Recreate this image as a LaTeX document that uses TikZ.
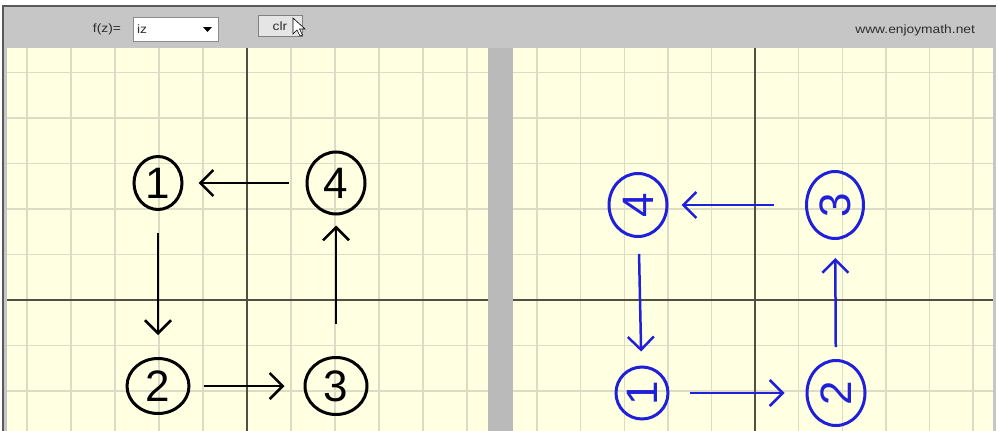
\documentclass[tikz,border=0pt]{standalone}
\usepackage{fontspec}
\setmainfont{Liberation Sans}
\usetikzlibrary{arrows.meta,shapes.geometric}

\definecolor{paper}{RGB}{255,255,226}
\definecolor{gridline}{RGB}{220,220,198}
\definecolor{axisline}{RGB}{80,80,66}
\definecolor{barface}{RGB}{198,198,198}
\definecolor{splitbar}{RGB}{186,186,186}
\definecolor{penblue}{RGB}{32,32,218}
\definecolor{uiink}{RGB}{45,45,45}

\tikzset{
  digit/.style={ellipse, draw, line width=3pt, inner sep=0pt,
    font=\fontsize{44}{44}\selectfont},
  bluedigit/.style={digit, draw=penblue, text=penblue},
  penarrow/.style={line width=2.5pt, -{Straight Barb[length=13pt,width=26pt]}},
  uitext/.style={text=uiink, font=\fontsize{12}{12}\selectfont, xscale=1.15},
  gridrule/.style={gridline, line width=1.4pt},
  axisrule/.style={axisline, line width=1.4pt}
}

\begin{document}
\begin{tikzpicture}[x=1pt, y=-1pt]
\useasboundingbox (0,0) rectangle (996,431);

% window and tool bar
\fill[white] (0,0) rectangle (996,431);
\fill[barface] (3,6) rectangle (996,431);
\draw[line width=1.5pt, black!65] (3,431) -- (3,6) -- (996,6);

\node[uitext, anchor=east] (fzlabel) at (125,29) {f(z)=};
\node[draw=black!45, fill=white, minimum width=85pt, minimum height=24pt,
      inner sep=0pt, anchor=west] (fzbox) at (133,29) {};
\node[uitext, anchor=west] (fzvalue) at (fzbox.west) {iz};
\fill[black] (203,27) -- (212,27) -- (207.5,32) -- cycle;
\node[draw=black!50, fill=black!10, minimum width=38pt, minimum height=21pt,
      inner sep=0pt, uitext] (clrbtn) at (280,26) {clr};
\draw[black, fill=white, line width=0.6pt] (293,18) -- ++(0,16) -- ++(4,-4)
  -- ++(3,6) -- ++(2.5,-1) -- ++(-3,-6) -- ++(5.5,0) -- cycle;
\node[uitext, anchor=east] (site) at (979,30) {www.enjoymath.net};

% the two sheets
\fill[paper] (7,48) rectangle (488,431);
\fill[paper] (513,48) rectangle (993,431);
\fill[splitbar] (488,48) rectangle (513,431);

\foreach \k in {-5,...,5} {
  \draw[gridrule] (247+44*\k,48) -- (247+44*\k,431);
  \draw[gridrule] (755+43.6*\k,48) -- (755+43.6*\k,431);
}
\foreach \k in {-5,...,2} {
  \draw[gridrule] (7,300+45.5*\k) -- (488,300+45.5*\k);
  \draw[gridrule] (513,300+45.5*\k) -- (993,300+45.5*\k);
}
\draw[axisrule] (247,48) -- (247,431);
\draw[axisrule] (7,300) -- (488,300);
\draw[axisrule] (755,48) -- (755,431);
\draw[axisrule] (513,300) -- (993,300);

% z plane
\node[digit, minimum width=48pt, minimum height=53pt] (n1) at (158,183) {1};
\node[digit, minimum width=62pt, minimum height=55pt] (n2) at (158,386) {2};
\node[digit, minimum width=62pt, minimum height=57pt] (n3) at (336,386) {3};
\node[digit, minimum width=58pt, minimum height=62pt] (n4) at (336,183) {4};

\draw[penarrow, shorten <=17pt, shorten >=15pt] (n4) -- (n1);
\draw[penarrow, shorten <=22pt, shorten >=22pt] (n1) -- (n2);
\draw[penarrow, shorten <=13pt, shorten >=19pt] (n2) -- (n3);
\draw[penarrow, shorten <=32pt, shorten >=10pt] (n3) -- (n4);

% image under f(z)=iz
\node[bluedigit, minimum width=58pt, minimum height=63pt] (r4) at (638,205) {\rotatebox{90}{4}};
\node[bluedigit, minimum width=57pt, minimum height=67pt] (r3) at (835,205) {\rotatebox{90}{3}};
\node[bluedigit, minimum width=52pt, minimum height=52pt] (r1) at (642,393) {\rotatebox{90}{1}};
\node[bluedigit, minimum width=58pt, minimum height=65pt] (r2) at (836,393) {\rotatebox{90}{2}};

\draw[penarrow, penblue, shorten <=31pt, shorten >=13pt] (r3) -- (r4);
\draw[penarrow, penblue, shorten <=16pt, shorten >=14pt] (r4) -- (r1);
\draw[penarrow, penblue, shorten <=20pt, shorten >=21pt] (r1) -- (r2);
\draw[penarrow, penblue, shorten <=12pt, shorten >=18pt] (r2) -- (r3);
\end{tikzpicture}
\end{document}
